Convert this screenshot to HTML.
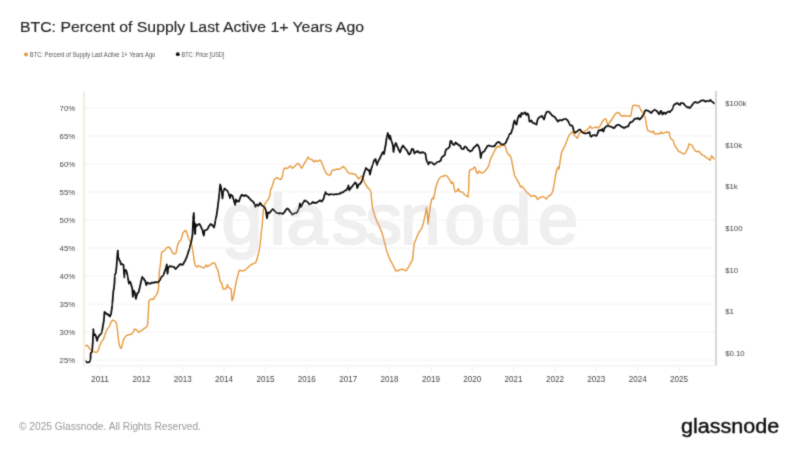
<!DOCTYPE html>
<html><head><meta charset="utf-8"><style>
html,body{margin:0;padding:0;background:#fff;}
body{width:800px;height:450px;overflow:hidden;position:relative;font-family:"Liberation Sans",Arial,sans-serif;}
svg{position:absolute;left:0;top:0;}
</style></head><body>
<svg width="800" height="450" viewBox="0 0 800 450">
<defs><filter id="bl" x="0" y="0" width="800" height="450" filterUnits="userSpaceOnUse"><feConvolveMatrix order="3" kernelMatrix="0.0192 0.1001 0.0192 0.1001 0.5228 0.1001 0.0192 0.1001 0.0192" edgeMode="duplicate"/></filter></defs>
<rect width="800" height="450" fill="#fff"/>
<g filter="url(#bl)">
<text x="20" y="32.4" font-size="15.5" textLength="344" lengthAdjust="spacingAndGlyphs" fill="#262626" stroke="#262626" stroke-width="0.15">BTC: Percent of Supply Last Active 1+ Years Ago</text>
<circle cx="26" cy="54.4" r="2" fill="#e5993f"/>
<text x="29.8" y="56.6" font-size="6.8" textLength="125.5" lengthAdjust="spacingAndGlyphs" fill="#555">BTC: Percent of Supply Last Active 1+ Years Ago</text>
<circle cx="177.8" cy="54.2" r="1.9" fill="#111"/>
<text x="181.5" y="56.6" font-size="6.8" textLength="42.8" lengthAdjust="spacingAndGlyphs" fill="#555">BTC: Price [USD]</text>
<text x="221.8 269.6 286.6 332.0 365.4 399.9 444.6 491.0 537.7" y="244.2" font-size="73" fill="#efefef" stroke="#efefef" stroke-width="2.2" stroke-linejoin="round">glassnode</text>
<g stroke="#f3f3f3" stroke-width="1"><line x1="85" x2="715" y1="360.2" y2="360.2"/><line x1="85" x2="715" y1="332.2" y2="332.2"/><line x1="85" x2="715" y1="304.2" y2="304.2"/><line x1="85" x2="715" y1="276.2" y2="276.2"/><line x1="85" x2="715" y1="248.1" y2="248.1"/><line x1="85" x2="715" y1="220.1" y2="220.1"/><line x1="85" x2="715" y1="192.1" y2="192.1"/><line x1="85" x2="715" y1="164.1" y2="164.1"/><line x1="85" x2="715" y1="136.0" y2="136.0"/><line x1="85" x2="715" y1="108.0" y2="108.0"/></g>
<line x1="84" x2="84" y1="91" y2="366" stroke="#f3e5d3" stroke-width="1.4"/>
<line x1="716" x2="716" y1="91" y2="366" stroke="#bdbdbd" stroke-width="1.2"/>
<line x1="84" x2="716" y1="365.8" y2="365.8" stroke="#eeeeee" stroke-width="1"/>
<g stroke="#ececec" stroke-width="0.8"><line x1="100.0" x2="100.0" y1="367.5" y2="372.5"/><line x1="141.4" x2="141.4" y1="367.5" y2="372.5"/><line x1="182.7" x2="182.7" y1="367.5" y2="372.5"/><line x1="224.1" x2="224.1" y1="367.5" y2="372.5"/><line x1="265.4" x2="265.4" y1="367.5" y2="372.5"/><line x1="306.8" x2="306.8" y1="367.5" y2="372.5"/><line x1="348.2" x2="348.2" y1="367.5" y2="372.5"/><line x1="389.5" x2="389.5" y1="367.5" y2="372.5"/><line x1="430.9" x2="430.9" y1="367.5" y2="372.5"/><line x1="472.2" x2="472.2" y1="367.5" y2="372.5"/><line x1="513.6" x2="513.6" y1="367.5" y2="372.5"/><line x1="555.0" x2="555.0" y1="367.5" y2="372.5"/><line x1="596.3" x2="596.3" y1="367.5" y2="372.5"/><line x1="637.7" x2="637.7" y1="367.5" y2="372.5"/><line x1="679.0" x2="679.0" y1="367.5" y2="372.5"/></g>
<g font-size="7.8" fill="#474747" text-anchor="end"><text x="75.2" y="362.8">25%</text><text x="75.2" y="334.7">30%</text><text x="75.2" y="306.7">35%</text><text x="75.2" y="278.7">40%</text><text x="75.2" y="250.6">45%</text><text x="75.2" y="222.6">50%</text><text x="75.2" y="194.6">55%</text><text x="75.2" y="166.6">60%</text><text x="75.2" y="138.5">65%</text><text x="75.2" y="110.5">70%</text></g>
<g font-size="7.8" fill="#474747"><text x="725.2" y="355.8">$0.10</text><text x="725.2" y="314.2">$1</text><text x="725.2" y="272.6">$10</text><text x="725.2" y="231.0">$100</text><text x="725.2" y="189.4">$1k</text><text x="725.2" y="147.8">$10k</text><text x="725.2" y="106.2">$100k</text></g>
<g font-size="8.8" fill="#474747" text-anchor="middle"><text x="100.0" y="382.3" textLength="18" lengthAdjust="spacingAndGlyphs">2011</text><text x="141.4" y="382.3" textLength="18" lengthAdjust="spacingAndGlyphs">2012</text><text x="182.7" y="382.3" textLength="18" lengthAdjust="spacingAndGlyphs">2013</text><text x="224.1" y="382.3" textLength="18" lengthAdjust="spacingAndGlyphs">2014</text><text x="265.4" y="382.3" textLength="18" lengthAdjust="spacingAndGlyphs">2015</text><text x="306.8" y="382.3" textLength="18" lengthAdjust="spacingAndGlyphs">2016</text><text x="348.2" y="382.3" textLength="18" lengthAdjust="spacingAndGlyphs">2017</text><text x="389.5" y="382.3" textLength="18" lengthAdjust="spacingAndGlyphs">2018</text><text x="430.9" y="382.3" textLength="18" lengthAdjust="spacingAndGlyphs">2019</text><text x="472.2" y="382.3" textLength="18" lengthAdjust="spacingAndGlyphs">2020</text><text x="513.6" y="382.3" textLength="18" lengthAdjust="spacingAndGlyphs">2021</text><text x="555.0" y="382.3" textLength="18" lengthAdjust="spacingAndGlyphs">2022</text><text x="596.3" y="382.3" textLength="18" lengthAdjust="spacingAndGlyphs">2023</text><text x="637.7" y="382.3" textLength="18" lengthAdjust="spacingAndGlyphs">2024</text><text x="679.0" y="382.3" textLength="18" lengthAdjust="spacingAndGlyphs">2025</text></g>
<polyline points="85.4,346 86.1,345.78 86.8,345.1 87.5,346.02 88.2,346.5 88.9,347.43 89.6,348.8 90.55,349.54 91.5,350.7 92.4,351.32 93.3,351.6 94.25,351.97 95.2,352.1 96.15,352.18 97.1,352.1 97.8,350.85 98.5,349.8 99.4,346.5 100.1,344.7 100.8,342.8 101.5,341.9 102.2,340.9 102.9,339.99 103.6,339 104.3,336.48 105,334.3 105.7,332.42 106.4,330.6 107.35,329.15 108.3,327.8 109.25,326.26 110.2,324.5 111,322 111.75,321.25 112.5,320 113.25,320.47 114,320.5 114.75,321.02 115.5,321.5 116.5,324 117.5,330 118.5,340 119.5,346 120.25,347.22 121,348.5 122,346 123,341 123.75,339.38 124.5,338 125.25,336.77 126,336 127,335.26 128,335 129,334.73 130,334.5 131,334.16 132,334 132.75,332.69 133.5,331.5 134.5,329 135.25,329.45 136,329.5 136.75,330.26 137.5,331 138.25,331.78 139,332.5 139.75,331.62 140.5,331 141.25,330.51 142,330.5 142.75,329.66 143.5,329 144.25,328.32 145,328 145.75,327.51 146.5,327 147.5,325 148,318 148.5,310 148.8,301.1 149.55,300.55 150.3,299.5 151.1,299.24 151.9,298.8 153,299.5 154.2,298 155,296.69 155.8,295.7 156.55,294.7 157.3,293.3 158.5,288.7 158.9,281.7 159.3,272 160.5,264 161.5,253 162.5,251.5 163.25,251.4 164,251 164.75,250.12 165.5,249 166.25,248.45 167,247.5 168,247.38 169,247 169.75,247.89 170.5,248.5 171.25,250.18 172,252 173,253.24 174,254 175,253.73 176,253 176.75,249.08 177.5,245.5 178.25,243.63 179,241.5 179.75,241.11 180.5,240.5 181.5,238 182.25,235.48 183,233 184,231.77 185,230.5 186.2,231 186.85,233 187.5,235 188.25,237.21 189,239 189.75,240.5 190.5,242 191.25,244.17 192,246 193,252 194,259 194.2,261 195.3,265.6 196.05,266.28 196.8,267.1 197.55,266.54 198.3,265.6 199.05,266.15 199.8,266.3 200.75,266.68 201.7,267.1 202.65,267.48 203.6,267.8 204.35,267.46 205.1,266.7 205.7,265.86 206.3,264.8 207.4,266.7 208.15,266.14 208.9,265.6 209.65,265.06 210.4,264.8 211.15,264.16 211.9,263.7 212.65,263.25 213.4,262.6 214.15,262.78 214.9,263.3 216.1,266.3 216.8,268.6 218,270.1 219.1,276.2 220.2,281.5 220.85,282.35 221.5,282.8 222.4,285.8 223.3,289.1 224.5,289.1 225.25,288.68 226,288.5 226.75,286.76 227.5,284.6 228.4,287.6 229.15,287.8 229.9,288.2 231.1,288.8 231.7,296 232,300.8 232.9,299 233.8,294.8 234.7,290 235.6,285.2 236.5,280.4 237.2,277.7 237.8,275.63 238.4,273.1 239.5,270.1 240.6,270.5 241.4,270.8 242.2,270.9 242.95,270.7 243.7,270.5 244.45,270.31 245.2,270.1 245.95,269.43 246.7,268.6 247.45,267.89 248.2,267.1 248.95,266.46 249.7,266 250.7,264.9 251.57,264.32 252.43,264.04 253.3,263.6 254.07,263.52 254.83,263.06 255.6,262.7 256.25,260.94 256.9,259.6 257.8,256 258.7,252.4 259.6,248 260.3,242.7 260.9,237.3 261.3,232 262,227 262.5,221 263,215 263.5,209 264.5,204.5 265.5,203.16 266.5,201.5 267.5,200.36 268.5,199 269.25,197.2 270,195 270.5,190 271.25,188.35 272,187 272.75,184.62 273.5,182 274.25,180.03 275,178.5 276,178.08 277,177.5 278,178.14 279,179 280,179.11 281,179.5 281.75,177.94 282.5,176 283.5,170 284.25,168.8 285,168 286,168.26 287,168.5 288,167.93 289,167 289.75,166.37 290.5,166 291.25,166.86 292,168 292.75,167.94 293.5,167.5 294.25,166.71 295,166 295.75,165.36 296.5,164.5 297.25,163.77 298,163.5 298.75,163.93 299.5,164.5 300.25,165.84 301,167.5 302,168 302.75,166.59 303.5,165 304.25,163.54 305,162.5 305.75,161.48 306.5,160 307.25,158.26 308,157 308.75,158.11 309.5,159 310.25,159.01 311,159.5 311.75,159.63 312.5,160 313.25,161.16 314,162 314.75,161.08 315.5,160.5 316.25,160.84 317,161.5 317.75,161.35 318.5,161 319.25,160.44 320,160 320.75,160.77 321.5,162 322.25,164.25 323,166 323.75,167.83 324.5,170 325.25,171.27 326,173 326.75,173.67 327.5,174.5 328.25,174.81 329,175 329.75,175.12 330.5,175 331.5,171.5 332.25,170.56 333,170 334,169.92 335,170 336,169.27 337,169 338,169.22 339,169.5 340,168.88 341,168 341.75,167.62 342.5,167 343.5,166.5 344.25,167.45 345,168 345.75,169.13 346.5,170 347.25,171.43 348,172.5 349,173.1 350,173.5 351,173.49 352,173.5 353,173.61 354,174 354.75,174.33 355.5,174.5 356.25,175.41 357,176.5 357.75,177.55 358.5,179 359.25,178.22 360,177.5 360.75,176.94 361.5,176 362.25,176.56 363,177.5 364,181 364.75,182.79 365.5,184.5 366.25,185.45 367,186.5 367.75,187.51 368.5,188.5 369.25,189.07 370,190 371,192 371.4,197.5 372.4,207 373.35,210.98 374.3,214.5 375,216.25 375.7,218.3 376.4,220.08 377.1,222 378.03,223.66 378.97,225.83 379.9,227.7 380.62,229.42 381.35,231.28 382.07,233.17 382.8,235.3 383.7,238.88 384.6,242.8 385.55,246.4 386.5,250.4 387.23,252.37 387.95,254.2 388.67,256.34 389.4,258 390.1,259.62 390.8,261.05 391.5,262.07 392.2,263.6 393.15,265.47 394.1,267.4 395.05,269.13 396,271.1 396.7,270.92 397.4,270.71 398.1,270.58 398.8,270.2 399.5,270.05 400.2,269.58 400.9,269.41 401.6,269.2 402.33,269.46 403.05,269.45 403.77,269.72 404.5,270.2 405.25,270.45 406,270.8 406.85,269.36 407.7,268.3 408.53,267.05 409.37,265.44 410.2,264.2 411.03,262.33 411.87,260.71 412.7,259.2 413.5,250 414.3,243.3 415.15,241.12 416,239.2 416.85,236.96 417.7,235 418.5,233.36 419.3,231.7 420.13,230.55 420.97,229.34 421.8,228.3 422.65,225.47 423.5,222.5 424.35,218.61 425.2,215 425.85,211.45 426.5,207.5 427.3,213.3 428,224.2 429,216.7 430.2,206.7 430.85,203.58 431.5,200 432.5,198 433.5,199 434.5,194 435.5,189 436.5,185 437.25,183.11 438,181 438.75,179.47 439.5,178 440.5,177.26 441.5,176.5 442.5,176.29 443.5,176 444.5,175.53 445.5,175.5 446.5,175.96 447.5,176.5 448.25,177.76 449,179 449.75,180.09 450.5,181.5 451.5,183.5 452.5,182 453.5,184 454.5,190 455.5,192 456.25,191.3 457,191 457.75,189.9 458.5,188.5 459.5,191.5 460.5,191.68 461.5,192 462.25,192.26 463,192.5 463.75,193.71 464.5,194.5 465.25,195.06 466,195.5 467,196.14 468,197 468.7,190 469,175 469.5,170.5 470.25,170.24 471,169.5 472,169.19 473,169 473.75,167.76 474.5,167 475.5,168.5 476.5,172.5 477.5,173.5 478.25,172.34 479,171 479.75,171.55 480.5,172.5 481.25,172.65 482,173 483,172.67 484,172 485,171.09 486,170 486.75,168.76 487.5,168 488.25,166.48 489,165 490,160.5 491,158.21 492,156 492.75,154.49 493.5,153 494.25,151.35 495,150 495.75,148.79 496.5,147.5 497.25,146.54 498,146 498.75,146.64 499.5,147.5 500.25,146.44 501,145.5 502,145.47 503,145 504,145.04 505,145.5 506,149 507,152 507.75,153.38 508.5,154.5 509.25,154.85 510,155.5 510.75,157.29 511.5,159 512.5,165 513.5,170 514.5,175.5 515.25,176.7 516,178 516.75,179.23 517.5,180.5 518.25,181.88 519,183 519.75,184.95 520.5,187 521.25,186.56 522,186.5 522.75,187.06 523.5,188 524.25,188.79 525,190 525.75,191.18 526.5,192 527.25,192.57 528,193 528.75,193.98 529.5,194.5 530.25,195.6 531,196.5 531.75,196.01 532.5,196 533.5,195.83 534.5,195.5 535.25,196.14 536,196.5 536.75,198.11 537.5,199.5 538.25,198.75 539,198 539.75,197.68 540.5,197.5 541.25,196.98 542,196.5 542.75,196.9 543.5,197 544.25,197.38 545,198 545.75,198.51 546.5,199 547.25,197.74 548,196.5 548.75,196.23 549.5,195.5 550.25,195.15 551,194.5 551.75,193.47 552.5,192 553.5,188 554.5,182 555.5,176 556.5,171 557.5,168 558.5,167 559,169 560,162 560.65,157.82 561.3,153.3 562.15,151.25 563,149.4 563.85,147.62 564.7,146.1 565.5,144.14 566.3,142.2 567.15,139.88 568,137.8 568.85,136.06 569.7,134.4 570.5,133.69 571.3,132.8 572.4,131.7 573.25,133.56 574.1,135 574.95,135.89 575.8,136.7 576.6,137.66 577.4,138.3 578,136.45 578.6,135 579.4,133.53 580.2,132.2 581.05,132.2 581.9,131.7 582.75,131.77 583.6,132.2 584.4,131.61 585.2,131.1 586.05,130.33 586.9,130 587.75,128.94 588.6,128.3 589.4,127.4 590.2,126.1 591.05,127.44 591.9,128.3 592.75,128.12 593.6,127.8 594.4,127.41 595.2,127.3 596,127.2 597,127.47 598,128 599,127.09 600,126 601,124.09 602,122 602.75,120.97 603.5,120 604.25,119.51 605,119 606,119 607,122.5 608,125 608.75,123.56 609.5,122.5 610.25,121.52 611,120.5 612,119.22 613,117.5 614,116.13 615,114.5 615.75,113.55 616.5,113 617.25,112.76 618,112.5 618.75,112.86 619.5,113 620.5,115.5 621.25,115.63 622,116 623,115.95 624,115.5 625,115.73 626,116 627,116.1 628,116 629,116.2 630,116.5 631,115.5 632,109 633,105.5 633.75,105.5 634.5,105 635.25,105.39 636,105.5 636.75,105.79 637.5,106 638.25,105.82 639,106 640,108 641,110.5 641.75,111.22 642.5,112 643.25,113.01 644,114.5 644.75,116.8 645.5,119 646.5,125 647.5,130 648.27,130.66 649.03,130.77 649.8,131.4 650.53,131.71 651.27,131.99 652,132.3 652.7,131.6 653.4,131 654.1,132.66 654.8,134.1 655.7,134.12 656.6,133.7 657.5,133.8 658.4,133.7 659.05,133.89 659.7,134.1 660.35,133.23 661,131.9 661.7,132.72 662.4,133.7 663.3,133.37 664.2,132.8 665.1,132.43 666,131.9 666.9,132.23 667.8,132.3 668.5,132.48 669.2,132.3 670,136.8 671,139 671.65,139.11 672.3,139.5 673,140.71 673.7,141.8 674.6,145.4 675.25,146.25 675.9,147.2 676.6,148.38 677.3,149.4 677.95,150.54 678.6,151.2 679.3,151.72 680,152.1 680.65,152.11 681.3,152.6 682,153.03 682.7,153.5 683.35,153.81 684,153.9 684.7,153.44 685.4,152.6 686.05,151.53 686.7,150.3 687.4,149.11 688.1,147.6 689,144 689.65,144.01 690.3,144.5 691,144.92 691.7,144.9 692.35,146.16 693,147.2 693.7,148.35 694.4,149.4 695.05,150.5 695.7,151.2 696.6,151.64 697.5,151.7 698.2,151.25 698.9,151.2 699.55,152.26 700.2,153 700.9,153.83 701.6,154.4 702.25,154.7 702.9,155.3 703.6,155.62 704.3,155.7 704.95,156.44 705.6,157.1 706.3,157.4 707,158 707.65,158.6 708.3,158.9 709.2,159.37 710.1,160.2 711,157.5 711.5,155.7 712.4,156.6 713.3,158 713.95,158.71 714.6,159.3" fill="none" stroke="#e6993c" stroke-width="1.4" stroke-linejoin="round"/>
<polyline points="85.4,361 86.1,361.23 86.8,362.2 87.36,362.51 87.92,362.38 88.48,361.84 89.04,362.04 89.6,362 90.05,360.75 90.5,359.6 90.7,353 91.35,352.65 92,352 92.4,347.4 92.9,341 93.3,329.2 94.1,335.3 94.65,335.09 95.2,334.3 96.1,337.1 96.6,338.59 97.1,340.9 97.55,338.53 98,337.1 98.7,336.54 99.4,335.3 100.1,334.53 100.8,333.9 101.3,333.21 101.8,332 102.5,328.5 103,325.25 103.5,323 104,319 104.5,312 105,312.2 105.5,312.5 106,313.47 106.5,314 107.17,313.9 107.83,314.78 108.5,314.5 109.25,315.9 110,316.5 110.5,315.03 111,314.5 111.5,310.53 112,307.5 112.7,299.4 113.3,291.7 113.9,288.6 114.5,283.1 114.8,275 115.3,274.04 115.8,273 116.5,267 117.2,257 117.8,250.5 118.3,258 119,259 119.5,260.44 120,261 120.5,262.63 121,264.5 121.5,263.97 122,264 122.75,264.42 123.5,265 124.3,277.4 124.7,271.6 125.25,270.33 125.8,270 126.4,271.22 127,273 127.6,276.09 128.2,279.3 128.9,283.6 129.5,282.65 130.1,281.7 130.7,283.18 131.3,285.2 131.85,287.03 132.4,289.4 132.8,296.8 133.6,290.6 134.2,291.32 134.8,292.6 135.35,295.66 135.9,298.8 136.5,296.24 137.1,294.1 137.63,292.85 138.17,292.9 138.7,291.8 139.45,288.76 140.2,285.6 141,281.7 141.6,279.29 142.2,276.6 142.9,277.8 143.5,278.24 144.1,279.3 144.7,280.59 145.3,280.9 145.85,283.41 146.4,285.2 147.2,282.8 147.73,282.55 148.27,282.9 148.8,283.2 149.55,283.62 150.3,283.6 150.83,283.41 151.37,283.24 151.9,282.4 152.65,282.52 153.4,282.8 153.93,282.86 154.47,282.44 155,282 155.75,282 156.5,282.4 157.03,282.35 157.57,282.52 158.1,282 158.73,281.68 159.37,280.67 160,280 160.5,278.84 161,277.5 161.67,276.53 162.33,276.24 163,276 163.75,274.3 164.5,272 165.25,269.91 166,268 166.8,264.5 167.5,274 168.2,268 168.8,267.01 169.4,266.72 170,266 170.67,266.37 171.33,266.51 172,266.5 172.67,266.54 173.33,266.77 174,267 174.75,268.01 175.5,269 176.17,268.61 176.83,267.69 177.5,267 178.12,266.27 178.75,265.74 179.38,264.65 180,264.5 180.6,264.04 181.2,264.7 181.8,264.98 182.4,264.59 183,264.5 183.67,263.23 184.33,261.84 185,261 185.67,259.34 186.33,258.15 187,256 187.67,254.27 188.33,252.04 189,250 189.67,248.03 190.33,245.07 191,243 191.75,239.01 192.5,235 193.2,218 193.8,213 194.3,222 194.8,232 195.2,234 195.6,224 196.05,225.45 196.5,226 197.25,225.33 198,224.5 198.75,224.21 199.5,224 200.25,225.27 201,227 201.75,228.55 202.5,230 203.15,233.21 203.8,235.5 204.5,231 205.25,230.01 206,230 206.75,229.78 207.5,229 208.25,227.82 209,226 209.75,225.39 210.5,224 211.25,224.49 212,224.5 212.5,225.56 213,226 213.5,226.77 214,227.5 214.8,224 215.5,220 216,217.81 216.5,215.5 217,212.18 217.5,209 218,204.56 218.5,201 219,196.37 219.5,191 220.2,184.5 221,187 221.8,193 222.5,198.5 223.2,192 223.85,190.32 224.5,188.5 225.25,188.95 226,190 226.75,190.5 227.5,191 228,191.98 228.5,193 229.25,195.36 230,198 230.5,196.1 231,194.5 231.75,195.29 232.5,196 233.15,198.12 233.8,200 234.5,202.61 235.2,205 236,199.5 236.75,200.46 237.5,201.5 238.25,201.03 239,201.5 239.75,198.98 240.5,197 241.25,195.43 242,194.5 242.75,195.33 243.5,196 244.25,195.86 245,195 245.75,195.55 246.5,195.5 247.25,196.3 248,196.5 248.75,197.82 249.5,198.5 250.25,199.01 251,200 251.67,200.84 252.33,201.17 253,201.5 253.75,202.58 254.5,204.5 255,205.27 255.5,207 256.25,205.26 257,204.5 257.75,205.51 258.5,206 259.25,204.25 260,203 260.75,203.61 261.5,205 262.25,205.62 263,206 263.67,206.68 264.33,207.24 265,208.5 265.5,209.41 266,211 266.5,214.78 267,218.5 267.5,215.17 268,212.5 268.75,212.52 269.5,213 270.25,212.21 271,211 271.67,210.29 272.33,209.49 273,209 273.75,209.97 274.5,211 275.17,211.19 275.83,212.22 276.5,213 277.17,213.09 277.83,213.02 278.5,213.5 279.17,212.94 279.83,213.57 280.5,213 281.17,213.34 281.83,213.38 282.5,214 283.25,213.36 284,212.5 284.67,211.98 285.33,210.35 286,210 286.75,208.77 287.5,208.5 288.25,208.9 289,210 289.75,211.22 290.5,212 291.25,212.91 292,214.5 292.67,214.37 293.33,214.01 294,213.5 294.67,213.38 295.33,212.89 296,213 296.75,212.73 297.5,211.5 298.25,210.05 299,208 299.5,205.77 300,203.5 300.5,204.97 301,207 301.75,205.65 302.5,204 303.17,202.73 303.83,201.74 304.5,200.5 305.25,200.57 306,201 306.75,201.63 307.5,202 308.25,202.81 309,204.5 309.75,204.05 310.5,204 311.17,203.8 311.83,203.04 312.5,202 313.17,202.14 313.83,203.03 314.5,203 315.17,202.64 315.83,203.11 316.5,202.5 317.17,202.41 317.83,201.75 318.5,201.5 319.17,200.92 319.83,200.34 320.5,200.5 321.25,201.38 322,201.5 322.75,199.79 323.5,199 324,197.32 324.5,195 325,193.96 325.5,192 326.25,193.07 327,194 327.67,193.84 328.33,194.7 329,194.5 329.5,194.72 330,194 330.57,194.28 331.14,194.15 331.71,194.09 332.29,194.13 332.86,194.06 333.43,194.6 334,194.5 334.57,194.36 335.14,194.05 335.71,193.89 336.29,194.38 336.86,193.94 337.43,194.07 338,194 338.6,193.63 339.2,193.97 339.8,193.8 340.4,192.72 341,193 341.6,192.4 342.2,192.23 342.8,192.59 343.4,192.08 344,191.5 344.62,190.96 345.25,190.46 345.88,190.55 346.5,190 347.17,188.84 347.83,187.43 348.5,185.5 349.2,190.5 349.8,189.34 350.4,188.88 351,187.5 351.75,186.94 352.5,186 353.25,184.98 354,184 354.5,183.74 355,182.5 355.75,182.98 356.5,184 357.2,188 357.85,186.73 358.5,185 359.25,184.08 360,184 360.75,182.67 361.5,182 362.25,179.91 363,177 363.75,174.21 364.5,172 365.25,170.26 366,168 366.75,168.85 367.5,169.5 368.25,170.09 369,170 369.5,172.12 370,174.5 370.5,172.09 371,170 371.75,167.29 372.5,165 373.25,163.12 374,160.5 374.75,159.85 375.5,159 376.25,162.45 377,165 377.5,163.89 378,162 378.75,160.14 379.5,159 380.17,157.72 380.83,155.94 381.5,155 382.25,153.04 383,152 383.5,152.57 384,154 384.5,151.37 385,148 385.5,145.79 386,143 386.8,136 387.3,134.83 387.8,133 388.5,136 389,137.34 389.5,139 390.2,135.5 390.7,137.87 391.2,140 391.7,141.78 392.2,143 392.8,145 393.5,152 394,148.88 394.5,146 395.15,144.57 395.8,143 396.4,144.22 397,146 397.75,147.33 398.5,149.5 399.25,150.77 400,152.5 400.75,150.64 401.5,148 402.25,146.81 403,145.5 403.75,146.93 404.5,147.5 405.25,148.46 406,149.5 406.75,150.28 407.5,151.5 408.25,153.29 409,154.5 409.75,154.08 410.5,153 411.25,150.51 412,149 412.5,149.17 413,149 413.75,150.84 414.5,153.5 415.25,152.37 416,152 416.6,151.89 417.2,151 417.85,151.29 418.5,152.5 419.25,152.24 420,152.5 420.67,152.99 421.33,152.42 422,152.5 422.67,152.22 423.33,152.37 424,152.8 424.75,153.14 425.5,154 426.2,159 427,161.5 427.75,163.24 428.5,164.5 429,162.85 429.5,162 430.25,162.66 431,162.5 431.75,162.63 432.5,163 433.17,163.97 433.83,164.41 434.5,164.5 435.25,163.79 436,163.5 436.75,162.5 437.5,162 438.25,161.98 439,162 439.75,161.1 440.5,161 441,159.65 441.5,158 442.25,156.79 443,156.5 443.75,155.51 444.5,155.5 445,153.73 445.5,151 446,149.8 446.5,149 447.25,148.85 448,148.5 448.75,147.7 449.5,147 450,143.81 450.5,141 451,140.81 451.5,141.5 452,142.91 452.5,143.5 453.25,144.72 454,145 454.75,144.22 455.5,142.5 456.25,142.86 457,144 457.5,143.97 458,144.5 458.67,144.95 459.33,145.65 460,145.5 460.75,147.04 461.5,148.5 462.17,148.85 462.83,149 463.5,149 464.25,147.51 465,146.5 465.75,147.04 466.5,147.5 467.25,148.56 468,150 468.67,150.25 469.33,150.58 470,151.5 470.75,151.03 471.5,151 472.25,150.23 473,148.5 473.67,147.78 474.33,147.32 475,146.5 475.67,145.98 476.33,145.61 477,144.5 477.75,145.14 478.5,146 479,147.31 479.5,149 480.2,152 480.7,158 481.5,154 482,153.08 482.5,152.5 483.25,151.82 484,151.5 484.75,150.6 485.5,149 486.25,148.14 487,146.5 487.75,145.8 488.5,145.5 489.17,145.5 489.83,145.88 490.5,146 491.17,146.25 491.83,146.43 492.5,146.5 493.17,146.25 493.83,146.02 494.5,146.5 495.25,144.99 496,144 496.67,142.91 497.33,142.72 498,142 498.75,141.82 499.5,142.5 500,142.83 500.5,144 501.25,144.39 502,144.5 502.67,144.29 503.33,144.79 504,144.5 504.75,143.74 505.5,143 506,142.36 506.5,141 507.25,139.15 508,138 508.75,136 509.5,134 510.25,134.04 511,133.5 511.75,130.83 512.5,129 513,126.95 513.5,124 514,121.92 514.5,120.5 515,122.03 515.5,123 516,124.23 516.5,124.5 517,122.32 517.5,119.5 518,117.82 518.5,116.5 519,115.36 519.5,115 520,116.01 520.5,117 521,115.42 521.5,113 522.25,113.29 523,114 523.75,113.64 524.5,112.5 525,112.39 525.5,113 526,114.41 526.5,115 527,113.78 527.5,113.5 528,114.07 528.5,115 529,118.65 529.5,121.5 530,121.55 530.5,121 531,121.16 531.5,120.5 532,121.84 532.5,122.5 533.25,123 534,123 534.75,123.69 535.5,124 536,123.93 536.5,124.5 537,122.18 537.5,120 538.25,118.41 539,117.5 539.75,117.21 540.5,116.5 541.25,116.42 542,116 542.5,116.75 543,118 543.5,118.31 544,119.5 544.5,117.96 545,115.5 545.75,114.06 546.5,112 547.25,111.8 548,111.5 548.75,111.79 549.5,112 550.25,113.35 551,114 551.75,114.95 552.5,116 553.25,116.15 554,116.5 554.75,117.09 555.5,118 556.25,119.01 557,120.5 557.5,120.52 558,121.5 558.5,121.15 559,120.5 559.75,120.17 560.5,120 561.25,120.32 562,120.5 562.75,119.56 563.5,119.5 564.25,119.1 565,119 565.75,118.89 566.5,119.5 567.25,119.88 568,121 568.75,122.26 569.5,124 570,125.08 570.5,125.5 571.25,125.4 572,125.5 572.5,126.4 573,127.5 573.5,129.86 574,132 574.5,132.23 575,133 575.75,132.01 576.5,132 577.25,131.28 578,130.5 578.67,130.17 579.33,129.98 580,129.5 580.75,130.44 581.5,131.5 582.25,132.19 583,132.5 583.67,133.06 584.33,132.91 585,133.5 585.67,133.5 586.33,133.48 587,133.5 587.62,132.85 588.25,132.66 588.88,132.44 589.5,132 590,134.66 590.5,136.5 591.25,136.67 592,136 592.67,135.44 593.33,135.48 594,135 594.75,135.05 595.5,136 596.25,135.32 597,135.5 597.75,133.01 598.5,130.5 599.25,130.63 600,130 600.75,129.91 601.5,130.5 602,130.02 602.5,129 603,130.63 603.5,131.5 604,129.56 604.5,128 605.25,127.44 606,126.5 606.75,126.35 607.5,125.5 608.25,125.62 609,126 609.75,126.45 610.5,126.5 611.25,126.99 612,127 612.67,127.43 613.33,128.02 614,128 614.67,127.56 615.33,126.79 616,125.5 616.67,125.4 617.33,124.84 618,125 618.67,124.92 619.33,125.05 620,125.5 620.67,126.07 621.33,126.76 622,127 622.67,126.89 623.33,127.85 624,128 624.67,127.88 625.33,127.18 626,127 626.67,126.85 627.33,126.33 628,126.5 628.75,125.23 629.5,123.5 630.25,122.29 631,122 631.67,122.15 632.33,121.64 633,121 633.75,120.13 634.5,119 635.25,118.52 636,118.5 636.67,118.75 637.33,118.63 638,118 638.75,118.39 639.5,119.5 640.25,119.03 641,118 641.75,117.34 642.5,116 643.25,114.91 644,113.5 644.5,112.2 645,110.5 645.75,110.2 646.5,110 647.25,110.67 648,110.5 648.75,111.47 649.5,111.5 650.25,112.13 651,113 651.75,112.55 652.5,111.5 653.25,110.68 654,110 654.75,109.66 655.5,110 656.25,110.58 657,111.5 657.75,112.13 658.5,113.5 659,114.16 659.5,114 660,112.96 660.5,111 661,110.87 661.5,111.5 662,113.1 662.5,114.5 663.25,113.41 664,112.5 664.75,112.87 665.5,114 666.25,113.05 667,112.5 667.75,111.75 668.5,111.5 669.25,112 670,112 670.75,110.75 671.5,110.5 672,109.44 672.5,109 673,107.44 673.5,106 674,104.77 674.5,104.5 675.25,104.13 676,103.5 676.75,103.36 677.5,103 678.25,104.09 679,104.5 679.5,104.46 680,105 680.5,103.78 681,103 681.75,103.04 682.5,103 683.25,103.27 684,104 684.75,105.09 685.5,106 686.25,106.5 687,107.5 687.75,107.43 688.5,107 689.25,107.79 690,108 690.5,107.56 691,106.5 691.75,105.97 692.5,104.5 693.25,103.55 694,102.5 694.75,102.24 695.5,102 696.25,102.61 697,102.5 697.75,102.77 698.5,102.5 699.25,102.07 700,101.5 700.75,100.88 701.5,100.5 702.25,100.28 703,100.5 703.75,100.36 704.5,101 705.25,101.56 706,101.5 706.75,100.87 707.5,101 708.25,101.25 709,101 709.75,100.55 710.5,100 711.25,101.21 712,101.5 712.75,102.26 713.5,102.5 714.15,103.47 714.8,103.5" fill="none" stroke="#0a0a0a" stroke-width="1.75" stroke-linejoin="round"/>
<text x="19" y="429.9" font-size="10.2" fill="#999">© 2025 Glassnode. All Rights Reserved.</text>
<text x="680.9" y="432.5" font-size="20.1" textLength="98.4" lengthAdjust="spacingAndGlyphs" fill="#111" stroke="#111" stroke-width="0.4">glassnode</text>
</g>
</svg>
</body></html>
